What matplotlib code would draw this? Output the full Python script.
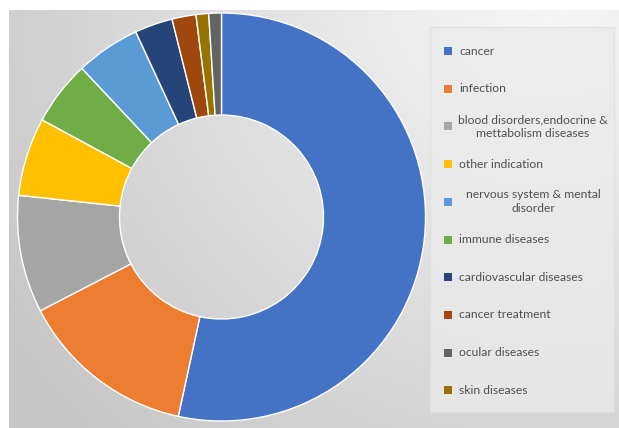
import matplotlib.pyplot as plt
import numpy as np
from matplotlib.patches import Rectangle

# share of each indication, in the order the slices run clockwise from 12 o'clock
pie_labels = ["cancer", "infection", "blood disorders,endocrine &\nmettabolism diseases",
              "other indication", "immune diseases", "nervous system & mental\ndisorder",
              "cardiovascular diseases", "cancer treatment", "skin diseases", "ocular diseases"]
pie_values = [53.4, 14.0, 9.3, 6.2, 5.1, 5.1, 3.0, 1.9, 1.0, 1.0]
pie_colors = ["#4472C4", "#ED7D31", "#A5A5A5", "#FFC000", "#70AD47", "#5B9BD5",
              "#264478", "#9E480E", "#997300", "#636363"]

# legend order as shown in the box
legend_order = ["cancer", "infection", "blood disorders,endocrine &\nmettabolism diseases",
                "other indication", "nervous system & mental\ndisorder", "immune diseases",
                "cardiovascular diseases", "cancer treatment", "ocular diseases", "skin diseases"]

W, H = 619, 428
fig = plt.figure(figsize=(W / 100, H / 100), dpi=100)
fig.patch.set_facecolor("white")

# grey radial gradient behind the chart
bg = fig.add_axes([9 / W, 0, 1 - 9 / W, 418 / H])
bg.set_axis_off()
yy, xx = np.mgrid[0:418, 0:610]
d = np.hypot(xx - 540, yy + 40) / 650.0
d = np.clip(d, 0, 1)
shade = 0.975 - 0.195 * d
bg.imshow(np.dstack([shade, shade, shade]), aspect="auto", extent=[0, 1, 0, 1])
bg.set_xlim(0, 1)
bg.set_ylim(0, 1)

# donut
ax = fig.add_axes([17.5 / W, 7 / H, 408 / W, 408 / H])
ax.pie(pie_values, colors=pie_colors, startangle=90, counterclock=False, radius=1,
       wedgeprops=dict(width=0.5, edgecolor="white", linewidth=1.0))
ax.set_xlim(-1, 1)
ax.set_ylim(-1, 1)
ax.set_aspect("equal")
ax.set_axis_off()

# legend box drawn in pixel units
lg = fig.add_axes([0, 0, 1, 1], zorder=3)
lg.set_xlim(0, W)
lg.set_ylim(H, 0)
lg.set_axis_off()
lg.add_patch(Rectangle((430, 27), 184, 385, facecolor="#ebebeb", edgecolor="#dedede",
                       linewidth=0.8, alpha=0.75))
color_of = dict(zip(pie_labels, pie_colors))
for i, name in enumerate(legend_order):
    yc = 51 + i * 37.7
    lg.add_patch(Rectangle((444, yc - 4), 8, 8, facecolor=color_of[name], edgecolor="none"))
    if "\n" in name:
        lg.text(533, yc, name, ha="center", va="center", multialignment="center",
                fontsize=8.7, color="#505050", family="Lato", linespacing=1.3)
    else:
        lg.text(459, yc, name, ha="left", va="center", fontsize=8.7, color="#505050", family="Lato")

fig.savefig("out.png", dpi=100)
